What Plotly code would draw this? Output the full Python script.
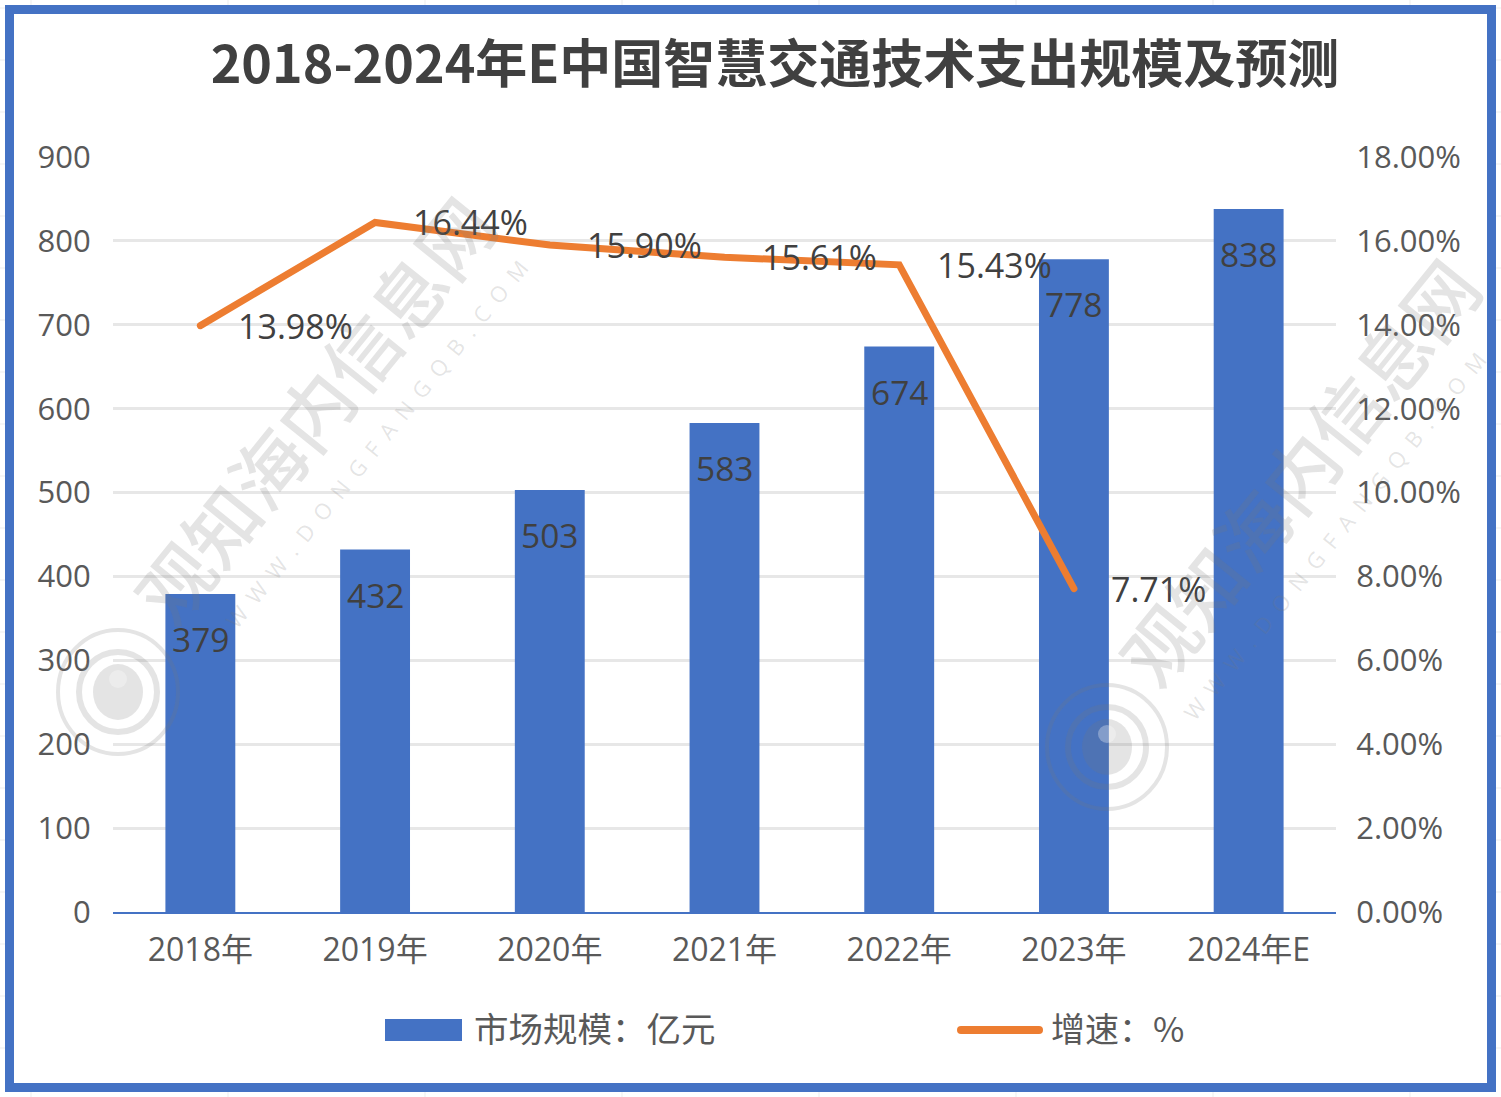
import plotly.graph_objects as go

years = ['2018年', '2019年', '2020年', '2021年', '2022年', '2023年', '2024年E']
market = [379, 432, 503, 583, 674, 778, 838]
growth_years = ['2018年', '2019年', '2020年', '2021年', '2022年', '2023年']
growth = [13.98, 16.44, 15.90, 15.61, 15.43, 7.71]
growth_labels = ['13.98%', '16.44%', '15.90%', '15.61%', '15.43%', '7.71%']
right_ticks = [0, 2, 4, 6, 8, 10, 12, 14, 16, 18]
right_tick_labels = ['0.00%', '2.00%', '4.00%', '6.00%', '8.00%', '10.00%', '12.00%', '14.00%', '16.00%', '18.00%']
label_shift = [95, 95, 95, 95, 95, 85]

W, H = 1501, 1097
L, R, T, B = 113, 1336, 157, 912  # plot area in page pixels

cjk = 'Noto Sans CJK SC'
latin = 'Open Sans, Noto Sans CJK SC'
grey = '#595959'
dark = '#404040'
blue = '#4472C4'
orange = '#ED7D31'
mark = 'rgba(120,120,120,0.2)'


def px(x):
    return (x - L) / (R - L)


def py(y):
    return (B - y) / (B - T)


def paper_shape(kind, x0, y0, x1, y1, **kw):
    return dict(type=kind, xref='paper', yref='paper',
                x0=px(x0), x1=px(x1), y0=py(y0), y1=py(y1), **kw)


def text_at(x, y, text, size, color, family, anchor='center', angle=0, weight=400):
    return dict(xref='paper', yref='paper', x=px(x), y=py(y), text=text, showarrow=False,
                xanchor=anchor, yanchor='middle', textangle=angle,
                font=dict(size=size, color=color, family=family, weight=weight))


fig = go.Figure()
fig.add_trace(go.Bar(x=years, y=market, name='市场规模：亿元',
                     marker=dict(color=blue, line_width=0), width=0.4))
fig.add_trace(go.Scatter(x=growth_years, y=growth, name='增速：%', yaxis='y2',
                         mode='lines', line=dict(color=orange, width=7)))

annotations = []
for yr, val in zip(years, market):
    annotations.append(dict(x=yr, y=val, text=str(val), showarrow=False, yshift=-45,
                            font=dict(size=33.5, color=dark, family=latin)))
for yr, val, lab, sh in zip(growth_years, growth, growth_labels, label_shift):
    annotations.append(dict(x=yr, y=val, yref='y2', text=lab, showarrow=False, xshift=sh,
                            font=dict(size=34, color=dark, family=latin)))

# водяные знаки
url = '\u2002'.join('WWW.DONGFANGQB.COM')
annotations.append(text_at(312, 408, '观知海内信息网', 74, mark, cjk, angle=-51, weight=500))
annotations.append(text_at(1297, 470, '观知海内信息网', 74, mark, cjk, angle=-51, weight=500))
annotations.append(text_at(376, 444, url, 22, mark, latin, angle=-51))
annotations.append(text_at(1334, 536, url, 22, mark, latin, angle=-51))

annotations.append(text_at(472, 1027, '市场规模：亿元', 34.5, grey, cjk, anchor='left'))
annotations.append(text_at(1049, 1027, '增速：%', 34, grey, cjk, anchor='left'))

shapes = []
# сетка листа за рамкой
for x in range(31, W, 197):
    shapes.append(paper_shape('line', x, 0, x, 5, line=dict(color='#EDEDED', width=1), layer='below'))
    shapes.append(paper_shape('line', x, 1092, x, H, line=dict(color='#EDEDED', width=1), layer='below'))
for y in range(8, H, 52):
    shapes.append(paper_shape('line', 0, y, 5, y, line=dict(color='#EDEDED', width=1), layer='below'))
    shapes.append(paper_shape('line', 1496, y, W, y, line=dict(color='#EDEDED', width=1), layer='below'))

for cx, cy in [(118, 692), (1107, 747)]:
    shapes.append(paper_shape('circle', cx - 60, cy - 62, cx + 60, cy + 62, line=dict(color=mark, width=4)))
    shapes.append(paper_shape('circle', cx - 39, cy - 40, cx + 39, cy + 40, line=dict(color=mark, width=6)))
    shapes.append(paper_shape('circle', cx - 25, cy - 28, cx + 25, cy + 28, fillcolor=mark, line_width=0))
    shapes.append(paper_shape('circle', cx - 9, cy - 22, cx + 9, cy - 4, fillcolor='rgba(255,255,255,0.3)', line_width=0))

shapes.append(paper_shape('rect', 385, 1019, 462, 1041, fillcolor=blue, line_width=0))
shapes.append(paper_shape('line', 961, 1030, 1039, 1030, line=dict(color=orange, width=8)))
shapes.append(paper_shape('rect', 9.5, 9.5, 1491.5, 1087.5, line=dict(color=blue, width=9)))

tick_font = dict(size=31, color=grey, family=latin)
fig.update_layout(
    width=W, height=H,
    paper_bgcolor='white', plot_bgcolor='rgba(0,0,0,0)',
    font=dict(family=cjk),
    title=dict(text='<b>2018-2024年E中国智慧交通技术支出规模及预测</b>',
               x=775 / W, xanchor='center', y=1 - 65 / H, yanchor='middle',
               font=dict(size=52, color=dark, family=cjk)),
    margin=dict(l=L, r=W - R, t=T, b=H - B, autoexpand=False),
    showlegend=False,
    xaxis=dict(tickfont=dict(size=32, color=grey, family=latin),
               showline=True, linecolor=blue, linewidth=2, showgrid=False,
               ticks='outside', ticklen=9, tickcolor='rgba(0,0,0,0)',
               range=[-0.5, 6.5], categoryorder='array', categoryarray=years, automargin=False),
    yaxis=dict(range=[0, 900], dtick=100, showgrid=True, gridcolor='#E7E7E7', gridwidth=3,
               zeroline=False, showline=False, ticks='outside', ticklen=15,
               tickcolor='rgba(0,0,0,0)', tickfont=tick_font, automargin=False),
    yaxis2=dict(range=[0, 18], tickvals=right_ticks, ticktext=right_tick_labels,
                overlaying='y', side='right', showgrid=False, zeroline=False, showline=False,
                ticks='outside', ticklen=13, tickcolor='rgba(0,0,0,0)',
                tickfont=tick_font, automargin=False),
    annotations=annotations,
    shapes=shapes,
)
fig.write_html("out.html", config=dict(displayModeBar=False), post_script=(
    "document.body.style.margin='0';"
    "document.querySelectorAll('.js-line, .shapelayer path').forEach("
    "p => p.style.strokeLinecap='round');"
))
